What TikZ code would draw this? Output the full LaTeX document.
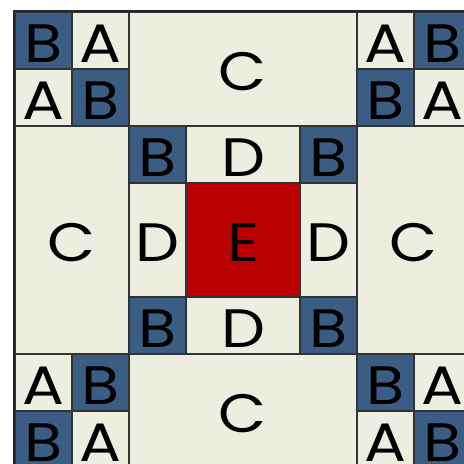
\documentclass[tikz,border=0pt]{standalone}
\usepackage{fontspec}
\newfontfamily\patchfont{Poppins}[FakeStretch=1.15]
\definecolor{quiltblue}{HTML}{3B5D84}
\definecolor{quiltcream}{HTML}{EDEDE0}
\definecolor{quiltred}{HTML}{BA0000}
\begin{document}
\begin{tikzpicture}[
	patch/.style={draw=black!80, line width=0.55pt, inner sep=0pt, minimum width=1cm, minimum height=1cm,
		text height=21.6pt, text depth=0pt, font=\patchfont\fontsize{27pt}{27pt}\selectfont}]
	\useasboundingbox (-0.263,0.070) rectangle (7.877,8.2105);
	% corner squares + centre B squares
	\foreach \c/\r/\l/\s in {0/0/B/quiltblue, 1/0/A/quiltcream, 0/1/A/quiltcream, 1/1/B/quiltblue,
		6/0/A/quiltcream, 7/0/B/quiltblue, 6/1/B/quiltblue, 7/1/A/quiltcream,
		0/6/A/quiltcream, 1/6/B/quiltblue, 0/7/B/quiltblue, 1/7/A/quiltcream,
		6/6/B/quiltblue, 7/6/A/quiltcream, 6/7/A/quiltcream, 7/7/B/quiltblue,
		2/2/B/quiltblue, 5/2/B/quiltblue, 2/5/B/quiltblue, 5/5/B/quiltblue} {
		\node[patch, fill=\s] (cell-\c-\r) at (\c+0.5,7.5-\r) {\l};
	}
	% C bars
	\node[patch, fill=quiltcream, minimum width=4cm, minimum height=2cm] (c-top) at (4,7) {C};
	\node[patch, fill=quiltcream, minimum width=4cm, minimum height=2cm] (c-bottom) at (4,1) {C};
	\node[patch, fill=quiltcream, minimum width=2cm, minimum height=4cm] (c-left) at (1,4) {C};
	\node[patch, fill=quiltcream, minimum width=2cm, minimum height=4cm] (c-right) at (7,4) {C};
	% D strips round the centre
	\node[patch, fill=quiltcream, minimum width=2cm] (d-top) at (4,5.5) {D};
	\node[patch, fill=quiltcream, minimum width=2cm] (d-bottom) at (4,2.5) {D};
	\node[patch, fill=quiltcream, minimum height=2cm] (d-left) at (2.5,4) {D};
	\node[patch, fill=quiltcream, minimum height=2cm] (d-right) at (5.5,4) {D};
	\node[patch, fill=quiltred, minimum width=2cm, minimum height=2cm] (e) at (4,4) {E};
	% outer frame
	\draw[line width=1pt, black!85] (cell-0-0.north west) rectangle (cell-7-7.south east);
\end{tikzpicture}
\end{document}
